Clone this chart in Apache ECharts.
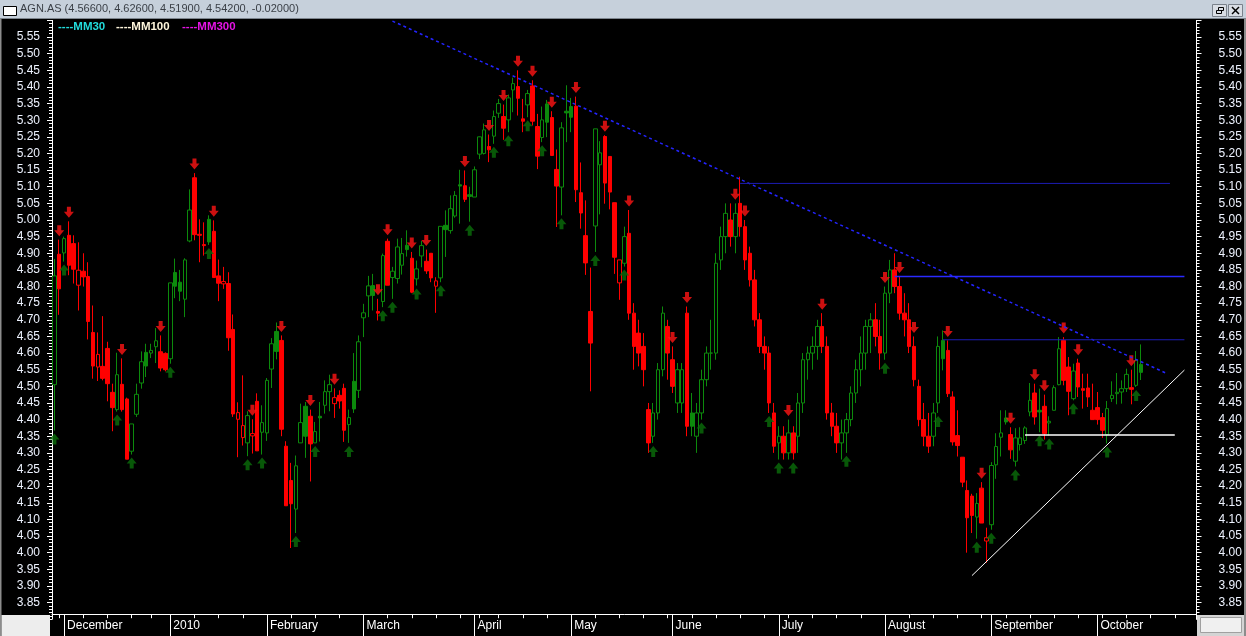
<!DOCTYPE html>
<html><head><meta charset="utf-8">
<script src="https://cdn.jsdelivr.net/npm/echarts@6/dist/echarts.min.js"></script>
<style>html,body{margin:0;padding:0;background:#000;overflow:hidden}#c{width:1246px;height:636px}</style>
</head><body><div id="c"></div>
<script>
// ---- DATA ----
const chartTitle = 'AGN.AS (4.56600, 4.62600, 4.51900, 4.54200, -0.02000)';
const legendLabels = ['----MM30', '----MM100', '----MM300'];
const monthNames = ['2010','February','March','April','May','June','July','August','September','October','November','December'];
const firstTradingDay = [2009, 10, 27];
const holidays = ['2009-12-25','2010-01-01','2010-04-02','2010-04-05'];
const blankDaysAfter = 11;

const opens = [
4.505,4.897,4.901,4.954,4.929,4.804,4.846,4.83,4.662,4.558,
4.56,4.614,4.482,4.43,4.506,4.462,4.305,4.416,4.51,4.602,
4.6,4.619,4.604,4.599,4.583,4.842,4.813,4.762,4.937,5.127,
4.957,4.926,5.002,4.966,4.832,4.808,4.809,4.671,4.401,4.346,
4.33,4.351,4.455,4.362,4.36,4.552,4.665,4.638,4.32,4.217,
4.131,4.33,4.44,4.41,4.33,4.41,4.443,4.484,4.448,4.473,
4.494,4.385,4.515,4.488,4.706,4.772,4.803,4.725,4.755,4.936,
4.827,4.824,4.864,4.924,4.885,4.823,4.892,4.876,4.9,4.801,
4.826,4.984,4.968,5.012,5.106,5.103,5.076,5.069,5.198,5.2,
5.221,5.252,5.321,5.311,5.301,5.391,5.401,5.304,5.346,5.403,
5.281,5.248,5.349,5.308,5.152,5.099,5.327,5.341,5.342,5.082,
4.953,4.725,4.982,5.166,5.251,5.191,5.052,4.811,4.87,4.96,
4.72,4.66,4.62,4.43,4.35,4.42,4.55,4.68,4.58,4.45,
4.45,4.72,4.42,4.35,4.42,4.52,4.6,4.6,4.88,4.95,
5.0,4.95,5.05,4.98,4.9,4.82,4.7,4.62,4.6,4.42,
4.33,4.35,4.3,4.36,4.35,4.45,4.58,4.6,4.62,4.68,
4.62,4.42,4.38,4.33,4.36,4.4,4.48,4.55,4.6,4.68,
4.7,4.65,4.6,4.78,4.85,4.8,4.72,4.7,4.62,4.5,
4.4,4.35,4.35,4.45,4.638,4.608,4.468,4.352,4.287,4.187,
4.17,4.107,4.194,4.035,4.084,4.264,4.347,4.405,4.355,4.275,
4.325,4.337,4.423,4.48,4.428,4.44,4.39,4.428,4.505,4.638,
4.558,4.463,4.57,4.493,4.495,4.428,4.436,4.406,4.355,4.463,
4.478,4.483,4.493,4.496,4.503,4.566];
const highs = [
4.883,4.941,4.95,4.996,4.954,4.933,4.90,4.873,4.743,4.662,
4.711,4.634,4.508,4.601,4.584,4.466,4.387,4.508,4.605,4.628,
4.628,4.675,4.653,4.602,4.811,4.884,4.85,4.885,5.092,5.141,
5.002,4.993,5.014,4.999,4.881,4.859,4.843,4.716,4.452,4.533,
4.425,4.401,4.479,4.443,4.525,4.645,4.692,4.653,4.335,4.27,
4.292,4.448,4.453,4.43,4.393,4.453,4.518,4.535,4.494,4.488,
4.508,4.43,4.6,4.653,4.748,4.832,4.838,4.763,4.899,4.944,
4.859,4.944,4.946,4.969,4.904,4.878,4.937,4.911,4.9,4.828,
4.981,5.029,5.074,5.087,5.151,5.149,5.1,5.161,5.251,5.29,
5.257,5.329,5.364,5.347,5.377,5.428,5.45,5.364,5.391,5.42,
5.319,5.341,5.361,5.327,5.212,5.294,5.405,5.367,5.371,5.173,
5.059,4.857,5.274,5.237,5.255,5.191,5.052,4.88,4.98,5.03,
4.75,4.7,4.66,4.45,4.45,4.57,4.74,4.7,4.62,4.57,
4.57,4.74,4.48,4.45,4.55,4.62,4.7,4.9,4.98,5.05,
5.05,5.05,5.13,5.0,4.92,4.85,4.72,4.65,4.62,4.45,
4.38,4.38,4.4,4.38,4.48,4.6,4.62,4.65,4.7,4.72,
4.65,4.45,4.42,4.4,4.42,4.5,4.58,4.65,4.7,4.72,
4.75,4.7,4.8,4.88,4.9,4.83,4.78,4.75,4.65,4.52,
4.45,4.42,4.45,4.65,4.668,4.638,4.485,4.428,4.287,4.217,
4.177,4.179,4.212,4.075,4.272,4.359,4.428,4.428,4.377,4.374,
4.377,4.38,4.51,4.508,4.493,4.475,4.41,4.503,4.648,4.648,
4.588,4.568,4.583,4.538,4.538,4.508,4.483,4.42,4.456,4.515,
4.54,4.518,4.553,4.55,4.606,4.626];
const lows = [
4.367,4.715,4.875,4.834,4.809,4.728,4.80,4.641,4.523,4.516,
4.518,4.455,4.365,4.424,4.424,4.281,4.295,4.408,4.493,4.528,
4.585,4.57,4.545,4.545,4.568,4.765,4.756,4.708,4.933,4.939,
4.873,4.893,4.925,4.827,4.756,4.793,4.607,4.408,4.287,4.322,
4.29,4.298,4.306,4.295,4.336,4.495,4.581,4.35,4.141,4.014,
4.059,4.33,4.285,4.214,4.33,4.334,4.418,4.425,4.405,4.433,
4.333,4.33,4.42,4.465,4.648,4.708,4.728,4.698,4.738,4.804,
4.763,4.809,4.836,4.89,4.78,4.803,4.858,4.838,4.813,4.721,
4.813,4.889,4.959,5.007,4.989,5.054,4.995,5.069,5.183,5.197,
5.174,5.229,5.307,5.241,5.264,5.324,5.314,5.264,5.309,5.284,
5.153,5.234,5.249,5.194,4.979,5.014,5.234,5.264,5.054,4.974,
4.835,4.485,4.904,5.017,5.049,5.032,4.838,4.76,4.86,4.7,
4.55,4.56,4.5,4.3,4.33,4.4,4.53,4.52,4.48,4.42,
4.42,4.35,4.35,4.3,4.4,4.5,4.55,4.58,4.85,4.9,
4.92,4.9,4.95,4.85,4.8,4.68,4.6,4.55,4.42,4.3,
4.28,4.28,4.28,4.28,4.3,4.42,4.52,4.55,4.58,4.6,
4.4,4.35,4.3,4.28,4.3,4.38,4.45,4.5,4.55,4.6,
4.62,4.55,4.58,4.75,4.78,4.7,4.65,4.6,4.5,4.38,
4.32,4.3,4.32,4.42,4.548,4.468,4.322,4.289,4.197,4.0,
4.059,4.042,4.089,3.97,4.069,4.222,4.289,4.385,4.282,4.259,
4.307,4.327,4.41,4.385,4.362,4.34,4.352,4.428,4.503,4.503,
4.413,4.458,4.468,4.433,4.438,4.4,4.385,4.345,4.328,4.453,
4.446,4.448,4.483,4.446,4.498,4.519];
const closes = [
4.832,4.793,4.944,4.864,4.852,4.849,4.829,4.695,4.561,4.596,
4.524,4.508,4.436,4.535,4.43,4.281,4.387,4.476,4.574,4.561,
4.608,4.637,4.555,4.55,4.811,4.801,4.786,4.88,5.03,4.956,
4.954,4.923,4.934,4.827,4.81,4.815,4.646,4.417,4.421,4.382,
4.412,4.358,4.306,4.391,4.518,4.628,4.605,4.371,4.141,4.147,
4.261,4.391,4.35,4.327,4.364,4.405,4.484,4.505,4.466,4.456,
4.368,4.406,4.432,4.634,4.721,4.802,4.773,4.72,4.893,4.804,
4.846,4.919,4.899,4.911,4.783,4.853,4.923,4.847,4.826,4.817,
4.981,4.971,5.034,5.074,5.102,5.062,5.071,5.151,5.25,5.271,
5.211,5.311,5.35,5.276,5.367,5.41,5.366,5.297,5.38,5.297,
5.192,5.301,5.294,5.194,5.102,5.277,5.322,5.309,5.091,5.021,
4.871,4.63,5.274,5.202,5.111,5.084,4.888,4.88,4.95,4.72,
4.62,4.6,4.55,4.33,4.42,4.55,4.72,4.6,4.5,4.55,
4.55,4.38,4.38,4.42,4.52,4.6,4.6,4.87,4.95,5.02,
4.95,5.02,4.98,4.88,4.82,4.7,4.62,4.6,4.45,4.32,
4.35,4.3,4.36,4.3,4.45,4.58,4.6,4.62,4.68,4.62,
4.42,4.38,4.33,4.36,4.4,4.48,4.55,4.6,4.68,4.7,
4.65,4.6,4.78,4.85,4.8,4.72,4.7,4.62,4.52,4.4,
4.35,4.32,4.42,4.62,4.583,4.478,4.333,4.322,4.212,4.105,
4.112,4.148,4.089,4.045,4.262,4.319,4.36,4.393,4.309,4.345,
4.345,4.375,4.458,4.408,4.423,4.358,4.395,4.496,4.613,4.518,
4.485,4.546,4.498,4.488,4.468,4.4,4.4,4.368,4.433,4.473,
4.482,4.493,4.536,4.491,4.578,4.542];
// 1 = up versus previous bar (green), -1 = down (red)
const moveDir = [
1,-1,1,-1,-1,-1,-1,-1,-1,-1,
-1,-1,-1,1,-1,-1,1,1,1,1,
1,1,-1,-1,1,1,1,1,1,-1,
-1,-1,1,-1,-1,-1,-1,-1,-1,-1,
1,-1,-1,1,1,1,1,-1,-1,-1,
1,1,1,-1,1,1,1,1,-1,-1,
-1,1,1,1,1,1,1,-1,1,-1,
1,1,1,1,-1,1,1,-1,-1,-1,
1,1,1,1,1,-1,1,1,1,1,
-1,1,1,-1,1,1,-1,-1,1,-1,
-1,1,1,-1,-1,1,1,1,-1,-1,
-1,-1,1,1,-1,-1,-1,-1,1,-1,
-1,-1,-1,-1,1,1,1,-1,-1,1,
1,-1,1,1,1,1,1,1,1,1,
-1,1,-1,-1,-1,-1,-1,-1,-1,-1,
1,-1,1,-1,1,1,1,1,1,-1,
-1,-1,-1,1,1,1,1,1,1,1,
-1,-1,1,1,-1,-1,-1,-1,-1,-1,
-1,-1,1,1,1,-1,-1,-1,-1,-1,
-1,1,-1,-1,1,1,1,1,-1,1,
1,1,1,-1,1,-1,1,1,1,-1,
-1,1,-1,-1,-1,-1,-1,-1,1,1,
1,1,1,-1,1,1];
const sellSignalIdx = [1,3,14,22,29,33,41,47,53,58,67,69,74,77,85,90,93,96,99,103,108,114,119,128,131,141,143,152,159,172,175,178,185,192,198,203,205,209,212,223];
const buySignalIdx = [0,2,13,16,24,32,40,43,50,54,61,68,70,75,80,86,91,94,98,101,105,112,118,124,134,148,150,153,164,172,183,191,194,199,204,206,211,218,224];
// trend lines: [barIndex, price]
const resistanceLine = [[70,5.598],[230,4.541]];
const supportLine = [[190,3.931],[234,4.549]];
const level511 = [[142,5.11],[231,5.11]];
const level483 = [[174,4.83],[234,4.83]];
const level464 = [[184,4.64],[234,4.64]];
const level435 = [[201,4.354],[232,4.354]];
const priceMin = 3.8, priceMax = 5.6, priceStep = 0.05;

// ---- BUILD ----
const dates = [];
{
  const d = new Date(Date.UTC(firstTradingDay[0], firstTradingDay[1], firstTradingDay[2]));
  while (dates.length < opens.length + blankDaysAfter) {
    const dow = d.getUTCDay();
    const s = d.toISOString().slice(0, 10);
    if (dow !== 0 && dow !== 6 && holidays.indexOf(s) < 0) dates.push(s);
    d.setUTCDate(d.getUTCDate() + 1);
  }
}
const monthStart = new Set(), weekStart = new Set();
for (let i = 1; i < dates.length; i++) {
  const a = new Date(dates[i - 1] + 'T00:00:00Z'), b = new Date(dates[i] + 'T00:00:00Z');
  if (a.getUTCMonth() !== b.getUTCMonth()) monthStart.add(i);
  if (b.getUTCDay() <= a.getUTCDay() || (b - a) > 4 * 86400000) weekStart.add(i);
}
function monthLabel(i) {
  const m = new Date(dates[i] + 'T00:00:00Z').getUTCMonth();
  return monthNames[m];
}
const GREEN = '#0c8a0c', RED = '#ff0000';
const candleData = opens.map((o, i) => {
  const col = moveDir[i] > 0 ? GREEN : RED;
  const fill = closes[i] > o ? '#000000' : col;
  return { value: [o, closes[i], lows[i], highs[i]],
    itemStyle: { color: fill, color0: fill, borderColor: col, borderColor0: col } };
});
const downArrow = 'path://M3,0 L7,0 L7,5 L10,5 L5,11 L0,5 L3,5 Z';
const upArrow = 'path://M5,0 L10,6 L7,6 L7,11 L3,11 L3,6 L0,6 Z';

function lineSeries(data, color, width, type) {
  return { type: 'line', data: data, showSymbol: false, symbol: 'none', silent: true, z: 5,
    lineStyle: { color: color, width: width, type: type || 'solid' }, animation: false, clip: true };
}
function yAxisDef(pos, margin) {
  return { type: 'value', position: pos, min: priceMin, max: priceMax, interval: priceStep,
    axisLine: { show: true, onZero: false, lineStyle: { color: '#ffffff', width: 1 } },
    axisTick: { show: true, length: 5, lineStyle: { color: '#ffffff' } },
    minorTick: { show: true, splitNumber: 5, length: 3, lineStyle: { color: '#ffffff' } },
    axisLabel: { color: '#eef3ff', fontSize: 12, fontFamily: 'Liberation Sans, Arial, sans-serif', margin: margin,
      showMinLabel: false, showMaxLabel: false, formatter: v => v.toFixed(2) },
    splitLine: { show: false }, minorSplitLine: { show: false } };
}

const chart = echarts.init(document.getElementById('c'), null, { renderer: 'canvas' });
chart.setOption({
  animation: false,
  backgroundColor: '#000000',
  grid: { left: 52, right: 49.5, top: 20.4, bottom: 16.8, containLabel: false },
  xAxis: [
    { type: 'category', data: dates, boundaryGap: true, position: 'bottom', offset: -5,
      axisLine: { show: true, onZero: false, lineStyle: { color: '#ffffff', width: 1 } },
      axisTick: { show: true, alignWithLabel: true, inside: false, length: 4,
        interval: (i) => weekStart.has(i), lineStyle: { color: '#ffffff' } },
      axisLabel: { show: true, interval: (i) => monthStart.has(i), formatter: (v, i) => monthLabel(i),
        color: '#ffffff', fontSize: 12, fontFamily: 'Liberation Sans, Arial, sans-serif', align: 'left',
        margin: 5, padding: [0, 0, 0, 3] },
      splitLine: { show: false } },
    { type: 'category', data: dates, boundaryGap: true, position: 'bottom', offset: -5,
      axisLine: { show: false },
      axisTick: { show: true, alignWithLabel: true, length: 22, interval: (i) => monthStart.has(i),
        lineStyle: { color: '#ffffff' } },
      axisLabel: { show: false }, splitLine: { show: false } }
  ],
  yAxis: [ yAxisDef('left', 12), yAxisDef('right', 22) ],
  graphic: [
    { type: 'rect', shape: { x: 0, y: 0, width: 1246, height: 19 }, style: { fill: '#c6d0db' }, z: 10 },
    { type: 'rect', shape: { x: 0, y: 18, width: 1246, height: 1 }, style: { fill: '#7d858e' }, z: 10 },
    { type: 'rect', shape: { x: 3.5, y: 6.5, width: 13, height: 9 }, style: { fill: '#ffffff', stroke: '#000000', lineWidth: 1 }, z: 11 },
    { type: 'text', left: 20, top: 3, z: 11, style: { text: chartTitle, fill: '#3a3f46', font: '11px "Liberation Sans", Arial, sans-serif' } },
    { type: 'rect', shape: { x: 1212.5, y: 4.5, width: 14, height: 12 }, style: { fill: '#d9dee5', stroke: '#7a828c', lineWidth: 1 }, z: 11 },
    { type: 'rect', shape: { x: 1228.5, y: 4.5, width: 14, height: 12 }, style: { fill: '#d9dee5', stroke: '#7a828c', lineWidth: 1 }, z: 11 },
    { type: 'rect', shape: { x: 1216.5, y: 10.5, width: 5, height: 3 }, style: { fill: 'none', stroke: '#000', lineWidth: 1 }, z: 12 },
    { type: 'rect', shape: { x: 1218.5, y: 7.5, width: 5, height: 3 }, style: { fill: 'none', stroke: '#000', lineWidth: 1 }, z: 12 },
    { type: 'line', shape: { x1: 1232, y1: 7, x2: 1239, y2: 14 }, style: { stroke: '#000', lineWidth: 1.5 }, z: 12 },
    { type: 'line', shape: { x1: 1239, y1: 7, x2: 1232, y2: 14 }, style: { stroke: '#000', lineWidth: 1.5 }, z: 12 },
    { type: 'rect', shape: { x: 0, y: 19, width: 1.5, height: 617 }, style: { fill: '#8c8c8c' }, z: 10 },
    { type: 'rect', shape: { x: 1244, y: 19, width: 2, height: 617 }, style: { fill: '#8c8c8c' }, z: 10 },
    { type: 'rect', shape: { x: 1.5, y: 615, width: 48.5, height: 21 }, style: { fill: '#ededed' }, z: 10 },
    { type: 'rect', shape: { x: 1197, y: 615, width: 47, height: 21 }, style: { fill: '#d4d4d4' }, z: 10 },
    { type: 'rect', shape: { x: 1200.5, y: 617.5, width: 41, height: 15 }, style: { fill: '#f0f0f0', stroke: '#a0a0a0', lineWidth: 1 }, z: 11 },
    { type: 'text', left: 58, top: 21, z: 11, style: { text: legendLabels[0], fill: '#22dcdc', font: 'bold 11.5px "Liberation Sans", Arial, sans-serif' } },
    { type: 'text', left: 116, top: 21, z: 11, style: { text: legendLabels[1], fill: '#fff6dc', font: 'bold 11.5px "Liberation Sans", Arial, sans-serif' } },
    { type: 'text', left: 182, top: 21, z: 11, style: { text: legendLabels[2], fill: '#e614e6', font: 'bold 11.5px "Liberation Sans", Arial, sans-serif' } }
  ],
  series: [
    { type: 'candlestick', xAxisIndex: 0, yAxisIndex: 0, data: candleData, barWidth: 4, z: 3,
      itemStyle: { borderWidth: 1 }, silent: true, animation: false },
    { type: 'scatter', xAxisIndex: 0, yAxisIndex: 0, data: sellSignalIdx.map(i => [i, highs[i]]),
      symbol: downArrow, symbolSize: [10, 11], symbolOffset: [0, -9], itemStyle: { color: '#ff1414' }, z: 4, silent: true },
    { type: 'scatter', xAxisIndex: 0, yAxisIndex: 0, data: buySignalIdx.map(i => [i, lows[i]]),
      symbol: upArrow, symbolSize: [10, 11], symbolOffset: [0, 8.5], itemStyle: { color: '#0a6e0a' }, z: 4, silent: true },
    lineSeries(resistanceLine, '#2424ff', 1.5, [3, 3]),
    lineSeries(level511, '#1c1cb4', 1),
    lineSeries(level483, '#2a2aff', 1.5),
    lineSeries(level464, '#1c1cb4', 1),
    lineSeries(level435, '#ffffff', 1.5),
    lineSeries(supportLine, '#ffffff', 1)
  ]
});
</script></body></html>
